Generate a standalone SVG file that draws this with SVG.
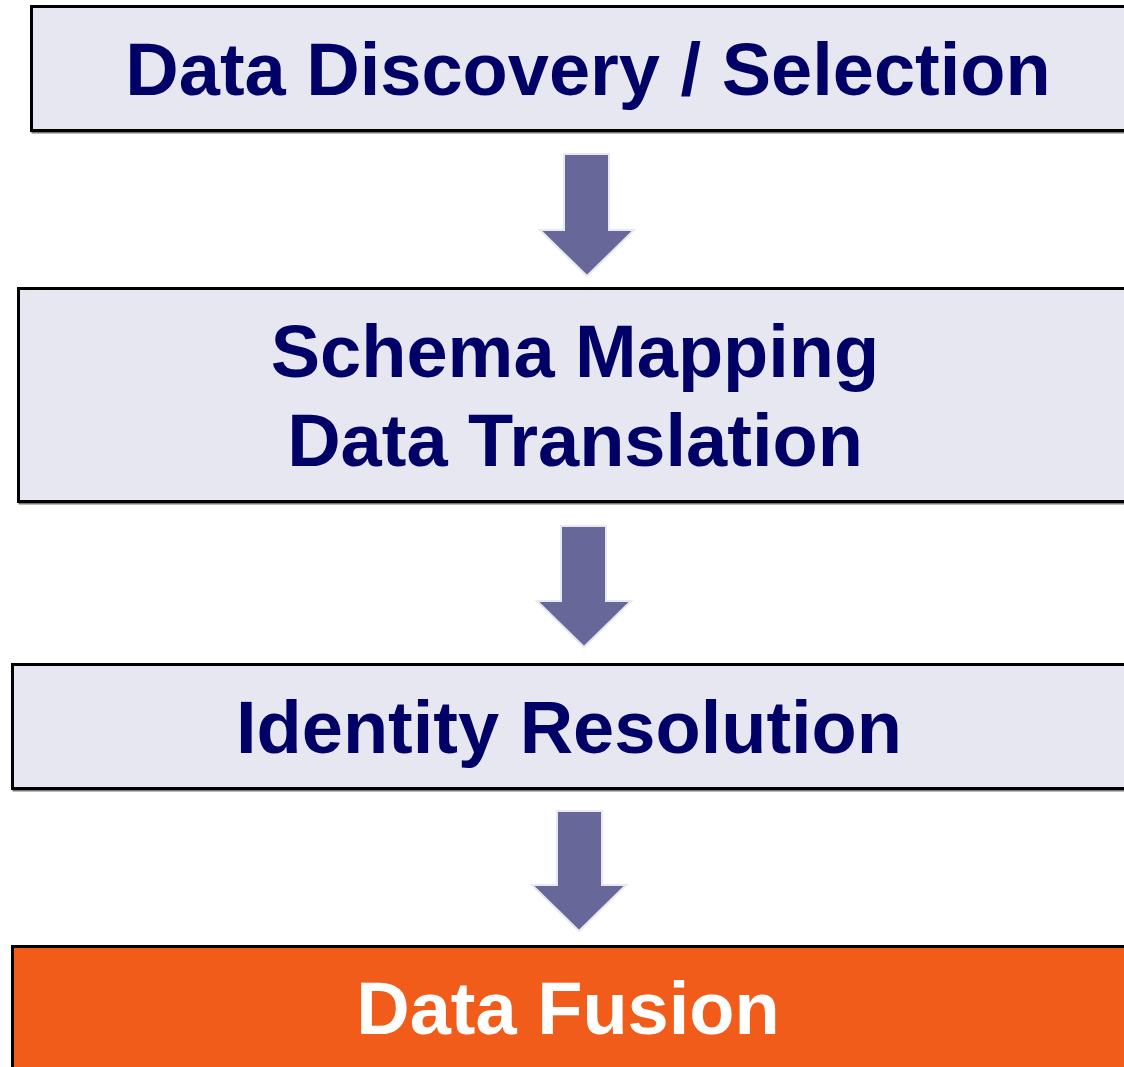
<svg xmlns="http://www.w3.org/2000/svg" width="1124" height="1067" viewBox="0 0 1124 1067">
  <style>
    .box { fill: #E6E7F1; stroke: #000; stroke-width: 3; }
    .fusion { fill: #F25C1A; stroke: #000; stroke-width: 3; }
    .shadow { fill: none; stroke: #777; stroke-width: 3; }
    .label { font-family: "Liberation Sans", Arial, sans-serif; font-weight: bold; font-size: 74px; fill: #000066; text-anchor: middle; }
    .light { fill: #FFFFFF; }
    .arrow { fill: #67679A; stroke: #E8E8F0; stroke-width: 2; }
  </style>

  <g id="node-discovery">
    <rect class="shadow" x="33" y="8" width="1100" height="124"/>
    <rect class="box" x="31.5" y="6.5" width="1100" height="124"/>
    <text class="label" x="588" y="95">Data Discovery / Selection</text>
  </g>

  <g id="node-schema">
    <rect class="shadow" x="20" y="290" width="1110" height="213"/>
    <rect class="box" x="18.5" y="288.5" width="1110" height="213"/>
    <text class="label" x="575" y="377">Schema Mapping</text>
    <text class="label" x="575" y="466">Data Translation</text>
  </g>

  <g id="node-identity">
    <rect class="shadow" x="14" y="666" width="1120" height="124"/>
    <rect class="box" x="12.5" y="664.5" width="1120" height="124"/>
    <text class="label" x="569" y="753">Identity Resolution</text>
  </g>

  <g id="node-fusion">
    <rect class="fusion" x="12.5" y="946.5" width="1120" height="140"/>
    <text class="label light" x="568" y="1034">Data Fusion</text>
  </g>

  <g id="connectors">
    <polygon class="arrow" points="564,154 609,154 609,230 634,230 587,276 540,230 564,230"/>
    <polygon class="arrow" points="561,526 606,526 606,601 631,601 584,647 537,601 561,601"/>
    <polygon class="arrow" points="557,811 602,811 602,885 626,885 579,931 532,885 557,885"/>
  </g>
</svg>
